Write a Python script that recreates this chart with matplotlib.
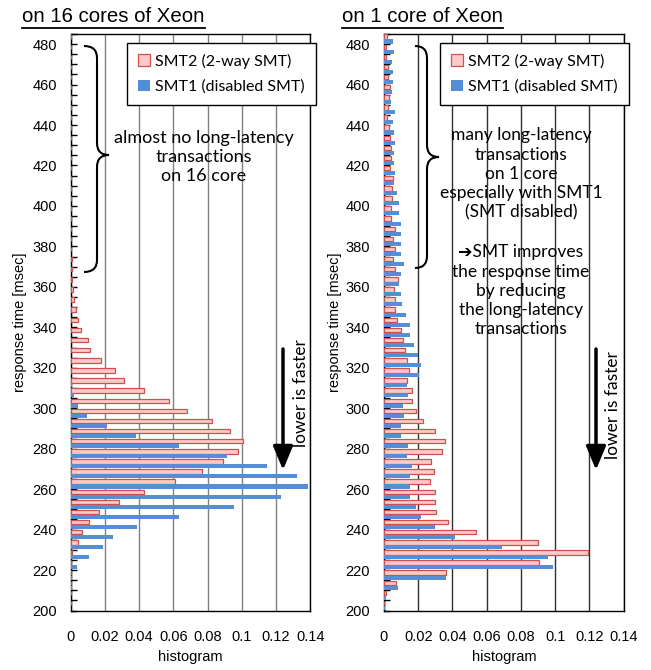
import matplotlib

matplotlib.use("Agg")
import matplotlib.pyplot as plt
import numpy as np
from matplotlib.lines import Line2D
from matplotlib.patches import FancyArrowPatch, Patch, PathPatch
from matplotlib.path import Path
from matplotlib.ticker import MultipleLocator
from matplotlib.transforms import Affine2D

W, H = 651, 670

# lower edge of each 5 msec response-time bin (200 .. 480)
BIN_START = np.arange(200, 485, 5)

# histogram values, one per bin, bottom (200) to top (480)
CORES16_SMT2 = [
    0, 0, 0, 0.0003, 0.0004, 0.0010, 0.0040, 0.0065, 0.0108, 0.0166,
    0.0285, 0.0429, 0.0610, 0.0770, 0.0893, 0.0980, 0.1005, 0.0934, 0.0826, 0.0680,
    0.0577, 0.0430, 0.0313, 0.0258, 0.0175, 0.0114, 0.0100, 0.0062, 0.0045, 0.0033,
    0.0022, 0.0016, 0.0010, 0.0010, 0.0006, 0, 0, 0, 0, 0,
    0, 0, 0, 0, 0, 0, 0, 0, 0, 0,
    0, 0, 0, 0, 0, 0, 0,
]
CORES16_SMT1 = [
    0, 0, 0.0006, 0.0010, 0.0036, 0.0108, 0.0188, 0.0250, 0.0388, 0.0633,
    0.0957, 0.1230, 0.1390, 0.1320, 0.1150, 0.0916, 0.0633, 0.0380, 0.0212, 0.0094,
    0.0040, 0.0018, 0.0005, 0, 0.0003, 0, 0.0003, 0.0003, 0, 0,
    0, 0, 0, 0, 0, 0, 0, 0, 0, 0,
    0, 0, 0, 0, 0, 0, 0, 0, 0, 0,
    0, 0, 0, 0, 0, 0, 0,
]
CORE1_SMT2 = [
    0, 0.0010, 0.0072, 0.0364, 0.0908, 0.1190, 0.0902, 0.0540, 0.0376, 0.0306,
    0.0300, 0.0300, 0.0270, 0.0294, 0.0277, 0.0340, 0.0355, 0.0300, 0.0230, 0.0185,
    0.0166, 0.0162, 0.0137, 0.0145, 0.0133, 0.0125, 0.0110, 0.0102, 0.0075, 0.0063,
    0.0067, 0.0059, 0.0082, 0.0067, 0.0055, 0.0063, 0.0055, 0.0063, 0.0040, 0.0043,
    0.0047, 0.0047, 0.0051, 0.0035, 0.0040, 0.0043, 0.0035, 0.0031, 0.0020, 0.0024,
    0.0031, 0.0035, 0.0024, 0.0024, 0.0012, 0.0012, 0.0016,
]
CORE1_SMT1 = [
    0.0003, 0.0010, 0.0080, 0.0363, 0.0986, 0.0957, 0.0690, 0.0417, 0.0300, 0.0218,
    0.0187, 0.0152, 0.0152, 0.0152, 0.0166, 0.0133, 0.0139, 0.0100, 0.0100, 0.0115,
    0.0109, 0.0139, 0.0137, 0.0204, 0.0216, 0.0200, 0.0176, 0.0153, 0.0151, 0.0129,
    0.0106, 0.0098, 0.0086, 0.0102, 0.0114, 0.0102, 0.0098, 0.0102, 0.0098, 0.0090,
    0.0086, 0.0075, 0.0059, 0.0067, 0.0059, 0.0059, 0.0067, 0.0059, 0.0055, 0.0067,
    0.0043, 0.0047, 0.0051, 0.0051, 0.0047, 0.0059, 0.0051,
]
X_TICKS = [0, 0.02, 0.04, 0.06, 0.08, 0.10, 0.12, 0.14]
X_LABELS = ["0", "0.02", "0.04", "0.06", "0.08", "0.1", "0.12", "0.14"]

PINK_FILL = "#ffc9c9"
PINK_EDGE = "#d05050"
BLUE = "#558ed5"
AX_FONT = "Liberation Sans"
NOTE_FONT = ["Lato", "DejaVu Sans"]

fig = plt.figure(figsize=(W / 100, H / 100), dpi=100)
# figure pixel coordinates, origin top-left (same as the reference picture)
PX = Affine2D().scale(1 / W, -1 / H).translate(0, 1) + fig.transFigure


def panel(left_px, smt2, smt1, grid_color):
    ax = fig.add_axes([left_px / W, 1 - 610.5 / H, 239.5 / W, 576.5 / H])
    ax.set_axisbelow(True)
    ax.grid(True, axis="x", color=grid_color, linewidth=1.0)
    ax.barh(BIN_START + 3.7, smt2, height=2.2, color=PINK_FILL,
            edgecolor=PINK_EDGE, linewidth=0.9, zorder=3)
    ax.barh(BIN_START + 1.3, smt1, height=2.0, color=BLUE, linewidth=0, zorder=3)
    ax.set_xlim(0, 0.14)
    ax.set_ylim(200, 485)
    ax.set_xticks(X_TICKS, X_LABELS)
    ax.yaxis.set_major_locator(MultipleLocator(20))
    ax.yaxis.set_minor_locator(MultipleLocator(5))
    ax.tick_params(axis="x", length=0, pad=14, labelsize=10.5)
    ax.tick_params(axis="y", which="both", direction="in", length=4,
                   width=1, pad=10, labelsize=10.5)
    for lab in ax.get_xticklabels() + ax.get_yticklabels():
        lab.set_family(AX_FONT)
    for sp in ax.spines.values():
        sp.set_color("black")
        sp.set_linewidth(1.0)
    handles = [Patch(facecolor=PINK_FILL, edgecolor=PINK_EDGE, linewidth=0.9),
               Patch(facecolor=BLUE)]
    leg = ax.legend(handles, ["SMT2 (2-way SMT)", "SMT1 (disabled SMT)"],
                    loc="upper left", bbox_to_anchor=(0.235, 0.985),
                    borderaxespad=0, fancybox=False, framealpha=1,
                    edgecolor="black", borderpad=0.7, handlelength=0.75,
                    handleheight=0.75, handletextpad=0.3, labelspacing=0.68,
                    prop={"family": NOTE_FONT, "size": 11.5})
    leg.get_frame().set_linewidth(1.0)
    return ax


def brace(x_tip, x_spine, x_mid, y_top, y_mid, y_bot, r=12):
    verts = [
        (x_tip, y_top), (x_spine, y_top), (x_spine, y_top + r),
        (x_spine, y_mid - r),
        (x_spine, y_mid), (x_mid, y_mid),
        (x_spine, y_mid), (x_spine, y_mid + r),
        (x_spine, y_bot - r),
        (x_spine, y_bot), (x_tip, y_bot),
    ]
    codes = [Path.MOVETO, Path.CURVE3, Path.CURVE3, Path.LINETO,
             Path.CURVE3, Path.CURVE3, Path.CURVE3, Path.CURVE3,
             Path.LINETO, Path.CURVE3, Path.CURVE3]
    fig.add_artist(PathPatch(Path(verts, codes), transform=PX, fill=False,
                             edgecolor="black", linewidth=1.5))


def down_arrow(x, y0, y1, label_x, label_y):
    fig.add_artist(FancyArrowPatch((x, y0), (x, y1), transform=PX,
                                   arrowstyle="-|>,head_length=1.2,head_width=0.5",
                                   mutation_scale=12, linewidth=2.5, color="black",
                                   shrinkA=0, shrinkB=0))
    fig.text(label_x, label_y, "lower is faster", transform=PX, rotation=90,
             ha="center", va="center", fontsize=12.5, family=NOTE_FONT)


def title(x, y, s):
    t = fig.text(x, y, s, transform=PX, ha="left", va="center",
                 fontsize=14.7, family=AX_FONT)
    fig.canvas.draw()
    bb = t.get_window_extent()
    fig.add_artist(Line2D([bb.x0, bb.x1], [H - 28, H - 28], color="black",
                          linewidth=1.3, transform=None))


ax_l = panel(70.7, CORES16_SMT2, CORES16_SMT1, "#808080")
ax_r = panel(384.0, CORE1_SMT2, CORE1_SMT1, "#303030")

title(22, 16, "on 16 cores of Xeon")
title(342, 16, "on 1 core of Xeon")

for cx in (20, 335):
    fig.text(cx, 322, "response time [msec]", transform=PX, rotation=90,
             ha="center", va="center", fontsize=10.5, family=AX_FONT)
for cx in (190, 504):
    fig.text(cx, 657, "histogram", transform=PX, ha="center", va="center",
             fontsize=10.5, family=AX_FONT)

brace(84, 97, 109, 46, 155, 272)
brace(415, 427, 439, 46, 157, 268)

fig.text(204, 157, "almost no long-latency\ntransactions\non 16 core",
         transform=PX, ha="center", va="center", fontsize=13,
         family=NOTE_FONT, linespacing=1.2)
fig.text(521, 174,
         "many long-latency\ntransactions\non 1 core\nespecially with SMT1\n(SMT disabled)",
         transform=PX, ha="center", va="center", fontsize=12.5,
         family=NOTE_FONT, linespacing=1.25)
fig.text(521, 291,
         "\u2794SMT improves\nthe response time\nby reducing\nthe long-latency\ntransactions",
         transform=PX, ha="center", va="center", fontsize=12.5,
         family=["Lato", "DejaVu Sans"], linespacing=1.25)

down_arrow(283, 349, 470, 301, 393)
down_arrow(596, 349, 470, 613, 405)

fig.savefig("out.png", dpi=100)
